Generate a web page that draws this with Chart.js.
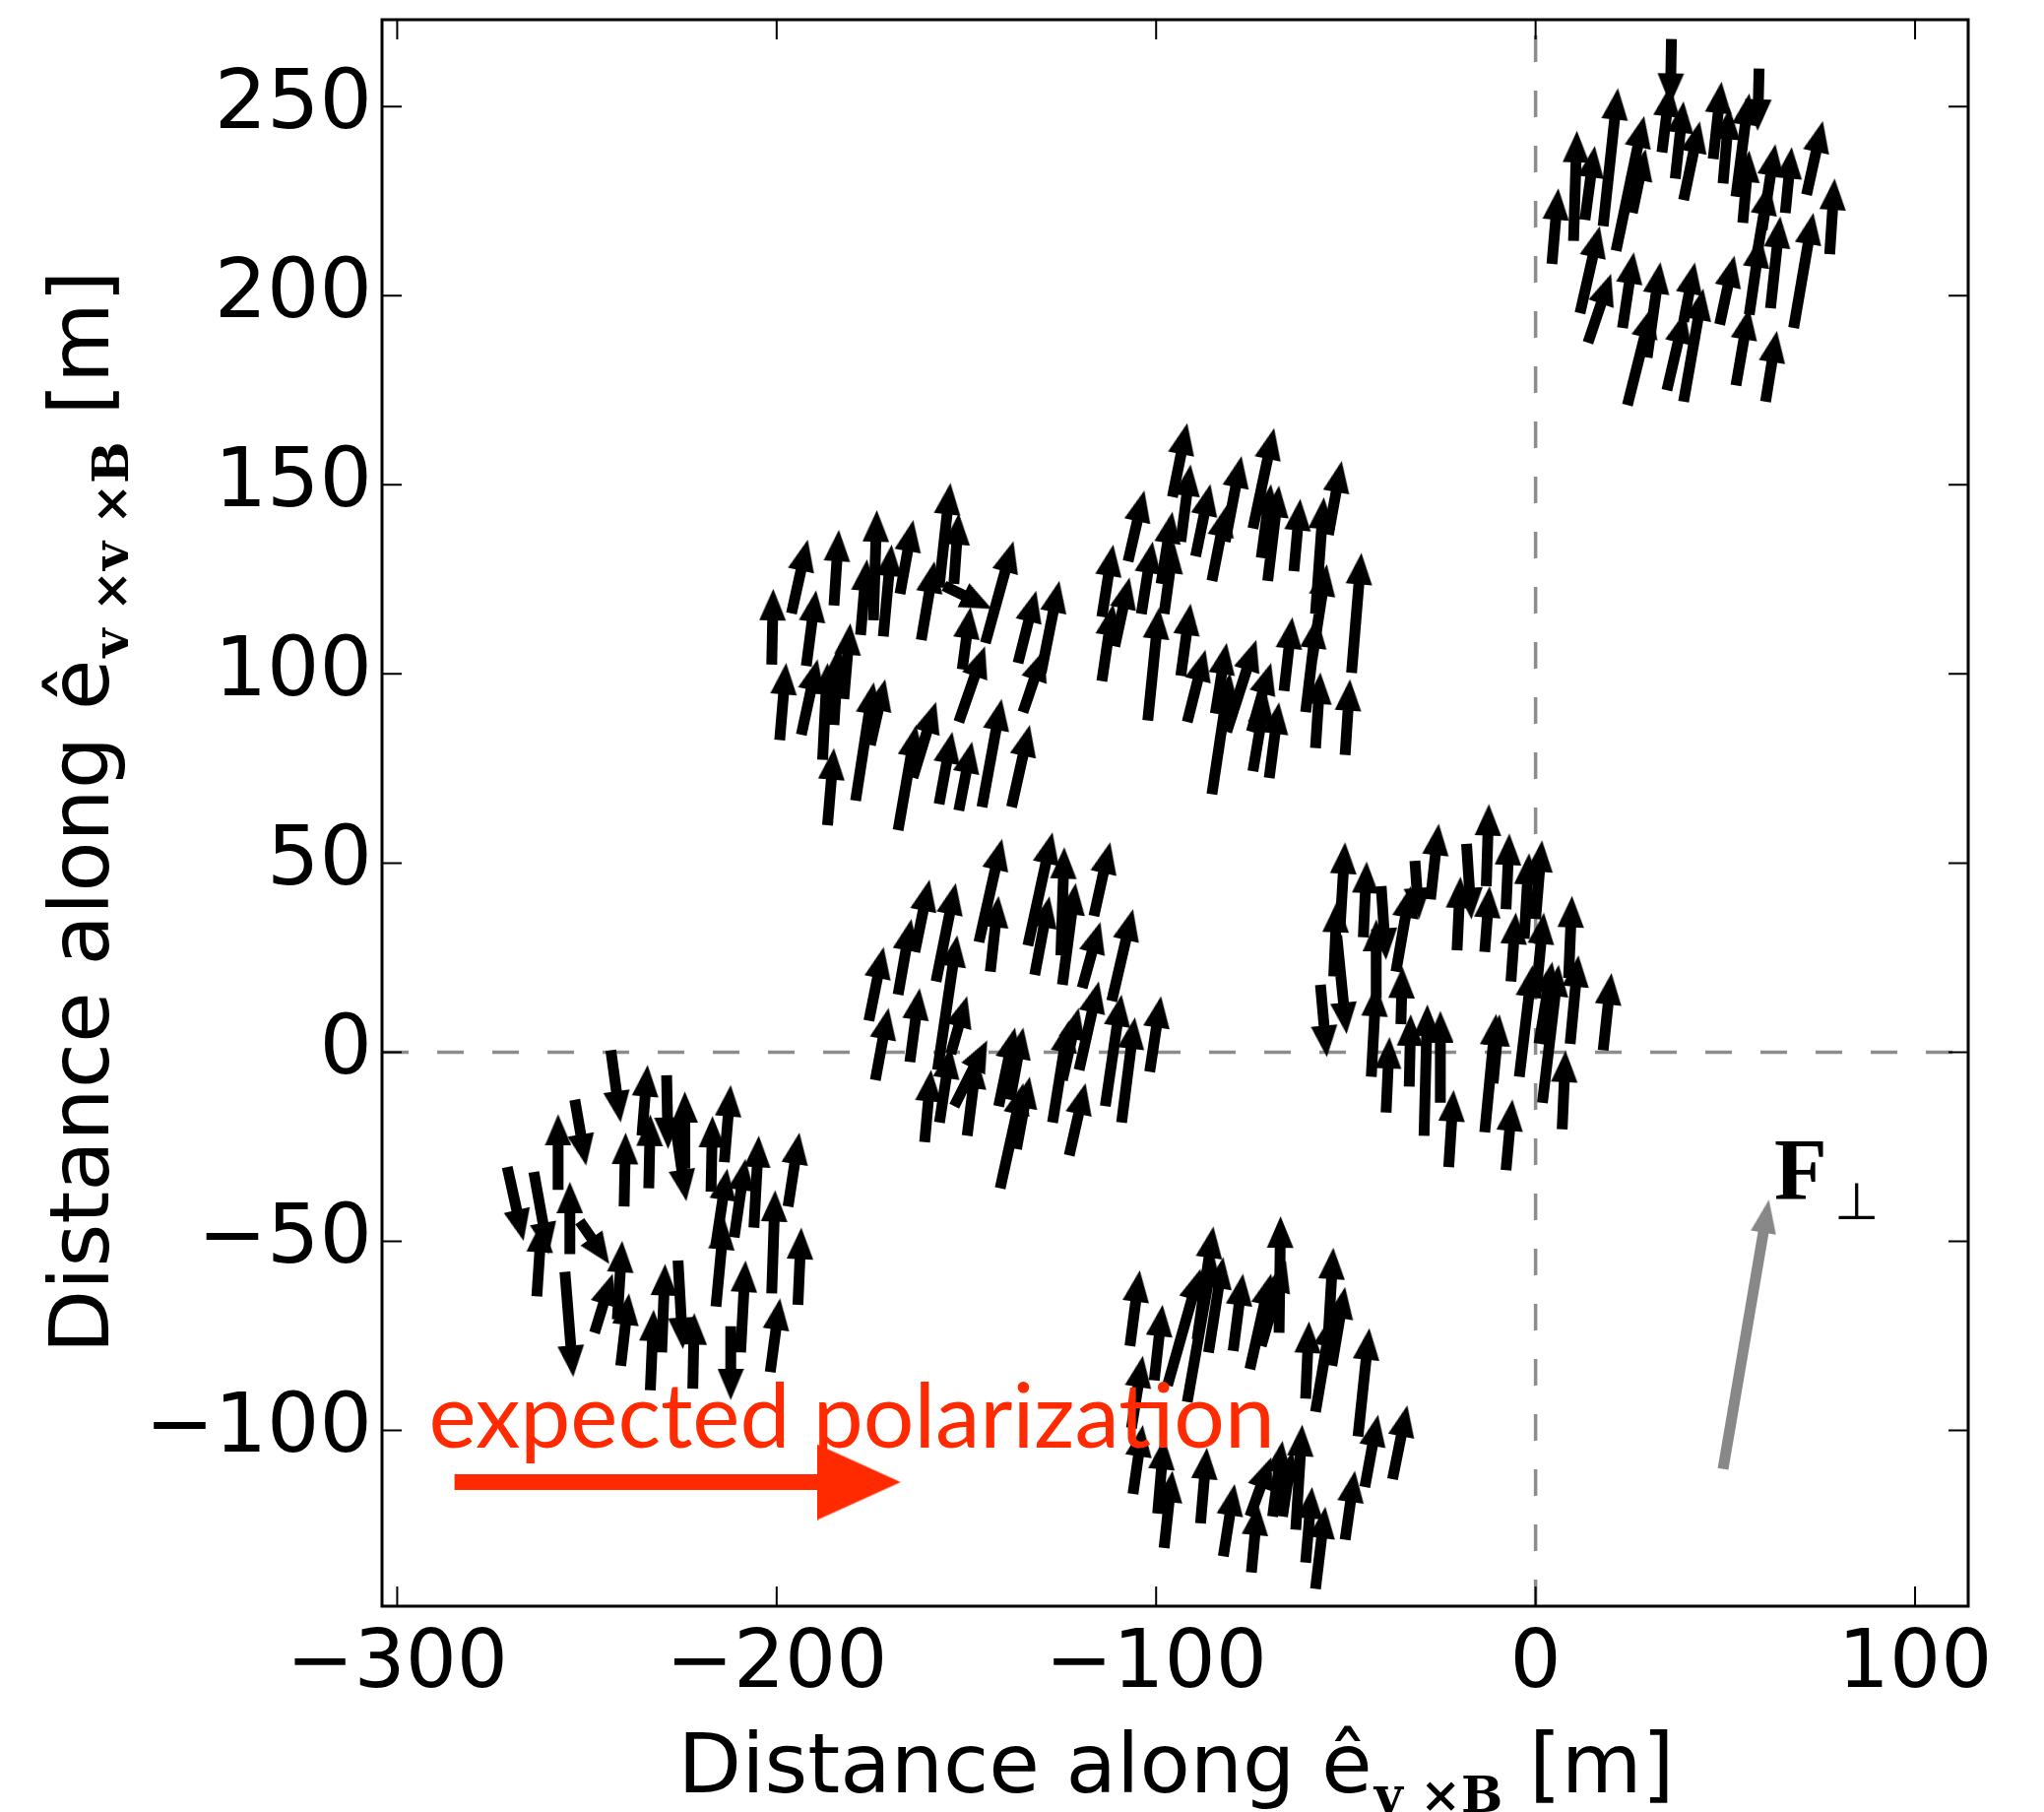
<!DOCTYPE html>
<html>
<head>
<meta charset="utf-8">
<title>Field footprint</title>
<script src="https://cdn.jsdelivr.net/npm/chart.js@4.4.1/dist/chart.umd.min.js"></script>
<style>
  html, body { margin: 0; padding: 0; background: #fff; }
  #wrap { width: 2076px; height: 1840px; position: relative; }
</style>
</head>
<body>
<div id="wrap"><canvas id="footprint"></canvas></div>
<script>
// axis ranges and labelled ticks (metres)
var xRange = [-304, 114];
var yRange = [-146.5, 273];
var xTickLabels = [-300, -200, -100, 0, 100];
var yTickLabels = [-100, -50, 0, 50, 100, 150, 200, 250];

// one array per station: [x, y, u, v] = arrow tail and arrow vector
var stationA = [
  [4.3, 208.4, 1.7, 20.0], [10.0, 214.5, 0.9, 29.1], [13.0, 220.1, 2.6, 19.5], [17.8, 218.4, 3.9, 36.5],
  [11.7, 195.4, 5.2, 23.0], [13.8, 187.6, 6.1, 18.2], [21.2, 211.9, 7.4, 35.6], [22.9, 191.5, 3.0, 20.0],
  [25.5, 221.9, 3.5, 16.9], [33.3, 237.9, 2.2, 17.8], [35.8, 267.9, -0.3, -17.4], [36.8, 231.0, 2.2, 20.4],
  [39.0, 225.3, 4.3, 20.8], [46.8, 236.2, 2.2, 20.4], [49.4, 229.7, 1.7, 20.0], [52.8, 226.2, 3.5, 27.3],
  [54.6, 219.3, 1.7, 19.1], [58.9, 260.1, -0.4, -16.5], [59.7, 217.5, 3.5, 22.6], [65.8, 221.9, 1.7, 17.4],
  [71.4, 226.7, 4.3, 19.5], [77.5, 211.0, 1.3, 20.0], [68.0, 191.5, 5.2, 30.4], [52.8, 176.3, 3.5, 20.4],
  [48.5, 192.4, 3.9, 18.2], [60.6, 172.0, 3.0, 18.7], [39.0, 172.0, 5.2, 29.9], [34.6, 175.0, 4.8, 20.8],
  [24.2, 171.1, 6.5, 26.0], [29.4, 183.7, 3.5, 25.2], [39.0, 193.2, 3.0, 15.6], [56.3, 195.0, 3.0, 20.8],
  [61.9, 196.7, 2.6, 24.3], [58.0, 208.9, 3.5, 20.8]
];
var stationB = [
  [-201.3, 102.5, 0.4, 20.0], [-196.1, 116.0, 4.3, 19.5], [-184.9, 118.1, 1.3, 20.0], [-192.2, 102.1, 2.6, 20.0],
  [-199.2, 82.5, 1.7, 20.4], [-193.5, 83.9, 4.3, 20.0], [-187.9, 77.3, 1.3, 25.6], [-184.9, 86.5, 1.3, 20.8],
  [-182.3, 93.4, 1.7, 20.0], [-186.6, 60.0, 1.7, 20.4], [-177.9, 110.3, 1.7, 20.0], [-174.5, 114.2, 0.9, 29.1],
  [-171.9, 109.9, 2.2, 24.3], [-167.5, 121.2, 3.5, 19.5], [-161.9, 109.0, 3.5, 20.8], [-157.2, 122.9, 3.0, 27.6],
  [-153.3, 123.8, 1.3, 18.7], [-151.1, 101.2, 2.2, 16.5], [-155.9, 123.3, 12.6, -6.1], [-145.0, 108.2, 7.4, 26.9],
  [-136.4, 102.9, 4.8, 19.1], [-130.3, 100.3, 4.8, 24.3], [-152.0, 87.3, 6.9, 20.0], [-145.9, 64.8, 5.2, 28.6],
  [-138.1, 64.8, 4.8, 21.7], [-135.1, 89.9, 5.6, 16.5], [-179.2, 66.5, 4.8, 31.3], [-175.3, 81.2, 3.9, 17.4],
  [-168.0, 58.7, 4.8, 27.8], [-164.1, 72.6, 6.1, 20.0], [-157.2, 65.6, 3.5, 19.1], [-152.0, 63.9, 3.5, 18.2]
];
var stationC = [
  [-95.7, 146.8, 3.9, 19.5], [-93.5, 135.0, 2.6, 20.4], [-107.4, 129.8, 4.3, 18.7], [-114.3, 115.1, 3.0, 19.1],
  [-114.3, 98.1, 3.0, 20.4], [-110.9, 107.3, 3.9, 18.2], [-103.9, 115.9, 3.0, 19.1], [-98.7, 123.8, 3.0, 19.1],
  [-89.6, 131.1, 3.9, 19.1], [-85.3, 124.6, 3.9, 20.0], [-81.8, 135.0, 4.3, 22.6], [-74.5, 138.5, 5.6, 26.5],
  [-70.6, 124.6, 3.0, 25.2], [-72.3, 130.7, 2.6, 19.5], [-63.7, 127.2, 1.7, 19.1], [-54.6, 136.8, 3.5, 19.5],
  [-58.0, 115.9, 2.2, 30.8], [-48.5, 100.3, 2.6, 31.7], [-50.2, 78.6, 1.3, 20.0], [-58.0, 80.4, 1.3, 20.0],
  [-60.6, 89.9, 3.0, 25.2], [-58.9, 103.8, 3.9, 25.2], [-66.3, 95.5, 2.2, 19.5], [-70.2, 72.5, 2.6, 20.0],
  [-74.5, 74.3, 3.5, 20.8], [-85.3, 68.2, 4.8, 32.1], [-81.4, 84.7, 7.8, 24.3], [-91.8, 87.3, 4.8, 19.1],
  [-84.4, 89.5, 3.0, 18.7], [-93.5, 99.5, 2.6, 19.1], [-102.2, 87.7, 3.0, 29.9], [-74.9, 84.7, 5.2, 18.2],
  [-97.9, 115.9, 2.6, 19.1]
];
var stationD = [
  [-175.7, 8.3, 3.9, 19.5], [-174.0, -7.4, 3.5, 19.1], [-168.0, 15.2, 3.5, 20.0], [-164.9, -2.6, 2.6, 19.5],
  [-163.6, 26.5, 3.9, 19.1], [-161.0, -23.8, 1.7, 19.1], [-158.0, 18.7, 5.2, 26.0], [-157.6, -4.7, 5.2, 35.6],
  [-157.1, -18.6, 3.0, 20.0], [-149.8, -22.1, 2.6, 20.8], [-153.2, -14.3, 8.7, 17.4], [-154.1, -0.4, 4.3, 15.2],
  [-146.7, 29.1, 6.1, 27.3], [-143.7, 21.3, 2.2, 20.0], [-141.5, -14.3, 4.3, 20.8], [-141.1, -36.0, 6.1, 27.8],
  [-136.8, -25.6, 3.5, 19.1], [-133.8, 28.2, 6.5, 29.9], [-132.0, 20.4, 3.9, 20.8], [-124.7, 17.8, 3.5, 26.9],
  [-125.1, 25.6, 0.9, 28.6], [-116.4, 36.0, 4.3, 19.5], [-119.5, 17.0, 4.8, 17.4], [-122.9, -27.3, 4.3, 19.1],
  [-127.3, -18.6, 4.3, 26.9], [-124.7, -7.4, 4.3, 19.1], [-120.3, -4.7, 5.2, 23.4], [-113.4, -14.3, 4.3, 29.5],
  [-111.7, 13.5, 5.6, 24.3], [-109.1, -18.6, 3.5, 27.8], [-101.7, -5.2, 3.0, 20.0], [-138.5, -12.6, 3.5, 19.1]
];
var stationE = [
  [-56.7, 17.8, 1.7, -19.1], [-51.5, 33.4, 1.3, 22.1], [-52.4, 30.8, 2.6, -26.0], [-53.2, 20.0, 0.9, 20.0],
  [-45.4, 30.4, 0.9, 20.0], [-40.7, 43.9, 1.3, -19.5], [-43.3, -6.5, 1.3, 24.3], [-42.0, 14.3, 0.0, 20.8],
  [-39.4, -16.0, 0.9, 20.0], [-35.5, 7.4, 0.4, 15.2], [-36.8, 21.3, 3.9, 22.6], [-31.8, 50.6, 1.1, -15.5],
  [-27.7, 40.4, 2.2, 20.0], [-20.7, 26.9, 0.9, 19.5], [-18.2, 55.1, 1.3, -20.0], [-13.0, 43.9, 0.7, 21.7],
  [-13.4, 26.5, 1.3, 17.4], [-7.8, 37.8, 0.9, 20.0], [-3.0, 30.0, 1.3, 22.6], [0.0, 35.2, 1.7, 20.8],
  [-6.5, 18.7, 1.3, 18.2], [0.0, 14.3, 2.2, 22.6], [8.7, 19.6, 0.9, 21.7], [9.1, 2.2, 2.2, 23.4],
  [17.8, 0.5, 2.2, 20.4], [-4.3, -6.5, 3.5, 29.5], [1.8, -13.4, 4.3, 36.5], [0.9, 2.2, 3.5, 21.7],
  [7.0, -20.4, 0.9, 20.8], [-13.4, -21.2, 3.0, 31.3], [-7.8, -31.2, 1.7, 18.7], [-22.9, -30.4, 1.3, 20.4],
  [-29.4, -22.1, 0.9, 34.7], [-33.3, -9.1, 0.4, 19.1], [-25.1, -13.4, 0.0, 24.3], [-11.2, -8.2, 1.7, 18.2]
];
var stationF = [
  [-271.0, -30.4, 4.3, -19.5], [-264.0, -31.7, 3.9, -21.7], [-263.2, -64.6, 1.3, 20.0], [-257.6, -36.4, 0.0, 20.0],
  [-253.2, -12.6, 3.0, -17.4], [-254.5, -53.4, 0.0, 19.1], [-255.8, -58.1, 2.2, -27.8], [-251.9, -44.7, 7.8, -11.3],
  [-248.0, -74.2, 4.8, 15.6], [-243.7, 0.5, 2.6, -19.1], [-240.2, -40.8, 0.4, 19.5], [-233.7, -36.0, 0.4, 19.5],
  [-235.5, -22.1, 1.5, 18.7], [-229.0, -6.1, 0.4, -19.5], [-226.8, -18.6, 3.0, -20.8], [-224.2, -30.8, 0.0, 20.4],
  [-217.3, -36.9, 0.4, 20.0], [-213.8, -29.1, 1.7, 20.4], [-216.0, -50.8, 3.0, 20.0], [-211.2, -49.0, 3.0, 20.8],
  [-206.0, -46.4, 1.3, 24.3], [-197.0, -40.8, 3.0, 19.5], [-201.3, -63.8, 0.9, 27.3], [-194.4, -66.8, 0.9, 20.4],
  [-201.7, -84.6, 2.6, 19.5], [-212.1, -72.5, 0.0, -19.5], [-209.5, -79.4, 1.3, 24.3], [-216.0, -67.3, 2.2, 23.4],
  [-233.3, -89.4, 0.9, 21.3], [-230.3, -79.4, 0.9, 23.4], [-222.1, -89.0, 0.4, 20.0], [-226.0, -55.1, 1.3, -23.4],
  [-241.1, -82.9, 2.2, 19.1], [-242.0, -70.7, 1.3, 20.8]
];
var stationG = [
  [-106.9, -77.7, 2.6, 20.0], [-106.5, -99.4, 3.0, 19.1], [-106.1, -116.8, 2.6, 18.2], [-100.5, -86.8, 2.2, 20.0],
  [-97.0, -88.1, 8.7, 30.8], [-91.8, -92.5, 6.9, 39.5], [-89.2, -76.0, 4.3, 29.9], [-86.2, -79.4, 3.9, 25.2],
  [-79.7, -79.0, 2.6, 20.4], [-75.3, -83.8, 5.6, 25.2], [-67.6, -74.2, 0.4, 30.8], [-72.3, -77.7, 6.5, 22.6],
  [-60.6, -91.6, 0.9, 20.4], [-58.0, -95.1, 4.3, 25.6], [-55.0, -81.2, 1.7, 29.5], [-53.7, -82.9, 3.5, 20.8],
  [-46.8, -101.6, 3.0, 28.6], [-37.7, -112.9, 3.9, 19.5], [-45.0, -115.0, 3.5, 19.1], [-50.2, -128.9, 2.6, 18.2],
  [-58.0, -141.9, 2.6, 21.7], [-60.6, -135.0, 1.7, 20.0], [-63.2, -126.3, 1.7, 27.8], [-66.7, -122.8, 2.6, 17.4],
  [-69.3, -122.8, 2.6, 20.0], [-74.9, -137.6, 1.7, 18.2], [-75.3, -122.8, 5.6, 15.6], [-82.3, -133.3, 3.0, 19.1],
  [-88.3, -124.6, 1.7, 20.0], [-97.9, -131.1, 2.2, 20.4], [-99.6, -122.0, 1.7, 20.0]
];
var stations = [stationA, stationB, stationC, stationD, stationE, stationF, stationG];

// reference arrows: F_perp (grey) and expected polarization (red), [x, y, u, v]
var forceArrow = [49.4, -110.2, 12.1, 71.2];
var polArrow = [-284.9, -113.7, 117.6, 0];

// annotation text anchors (data coordinates)
var polLabel = { text: 'expected polarization', x: -291.7, y: -104.6, xEnd: -68.8 };
var forceLabel = { x: 62.9, y: -38.7, subX: 78.7, subY: -44.1 };

function fmtTick(v) {
  return v < 0 ? '\u2212' + Math.abs(v) : String(v);
}

// arrow head bitmap: tip sits in the centre so the point value is the arrow tip
function headImage(w, len, color) {
  var c = document.createElement('canvas');
  c.width = w;
  c.height = len * 2;
  var g = c.getContext('2d');
  g.fillStyle = color;
  g.beginPath();
  g.moveTo(w / 2, len);
  g.lineTo(w, len * 2);
  g.lineTo(0, len * 2);
  g.closePath();
  g.fill();
  return c;
}

// split arrows into shaft segments and head points
function buildArrows(list, back) {
  var shafts = [], heads = [], rot = [];
  list.forEach(function (a) {
    var len = Math.sqrt(a[2] * a[2] + a[3] * a[3]);
    var k = Math.max(len - back, 0) / len;
    shafts.push({ x: a[0], y: a[1] });
    shafts.push({ x: a[0] + a[2] * k, y: a[1] + a[3] * k });
    shafts.push({ x: a[0], y: null });
    heads.push({ x: a[0] + a[2], y: a[1] + a[3] });
    rot.push(Math.atan2(a[2], a[3]) * 180 / Math.PI);
  });
  return { shafts: shafts, heads: heads, rot: rot };
}

var allArrows = [];
stations.forEach(function (s) { allArrows = allArrows.concat(s); });
var quiver = buildArrows(allArrows, 6);
var force = buildArrows([forceArrow], 6);
var pol = buildArrows([polArrow], 14);

function drawTitle(ctx, cx, by, sub) {
  var main = 'Distance along \u00ea', tail = ' [m]';
  var f1 = '84px "DejaVu Sans"', f2 = 'bold 50px "DejaVu Serif"';
  ctx.font = f1;
  var w1 = ctx.measureText(main).width, w3 = ctx.measureText(tail).width;
  ctx.font = f2;
  var w2 = ctx.measureText(sub).width;
  var x = cx - (w1 + w2 + w3) / 2;
  ctx.textAlign = 'left';
  ctx.textBaseline = 'alphabetic';
  ctx.fillStyle = '#000';
  ctx.font = f1;
  ctx.fillText(main, x, by);
  ctx.font = f2;
  ctx.fillText(sub, x + w1 + 2, by + 20);
  ctx.font = f1;
  ctx.fillText(tail, x + w1 + w2 + 2, by);
}

var decor = {
  id: 'decor',
  afterDatasetsDraw: function (chart) {
    var ctx = chart.ctx, a = chart.chartArea;
    var xs = chart.scales.x, ys = chart.scales.y;
    ctx.save();

    // red label
    ctx.fillStyle = '#ff2a00';
    ctx.textAlign = 'left';
    ctx.textBaseline = 'alphabetic';
    ctx.font = '100px Lato';
    var want = xs.getPixelForValue(polLabel.xEnd) - xs.getPixelForValue(polLabel.x);
    var size = 100 * want / ctx.measureText(polLabel.text).width;
    ctx.font = size.toFixed(1) + 'px Lato';
    ctx.fillText(polLabel.text, xs.getPixelForValue(polLabel.x), ys.getPixelForValue(polLabel.y));

    // F perp label
    ctx.fillStyle = '#000';
    ctx.font = 'bold 88px "Liberation Serif"';
    ctx.fillText('F', xs.getPixelForValue(forceLabel.x), ys.getPixelForValue(forceLabel.y));
    ctx.font = '52px "DejaVu Sans"';
    ctx.fillText('\u22a5', xs.getPixelForValue(forceLabel.subX), ys.getPixelForValue(forceLabel.subY));

    // inward ticks on all four sides
    ctx.strokeStyle = '#000';
    ctx.lineWidth = 2;
    ctx.beginPath();
    xs.ticks.forEach(function (t) {
      var p = xs.getPixelForValue(t.value);
      var len = xTickLabels.indexOf(t.value) >= 0 ? 20 : 10;
      ctx.moveTo(p, a.bottom); ctx.lineTo(p, a.bottom - len);
      ctx.moveTo(p, a.top); ctx.lineTo(p, a.top + len);
    });
    ys.ticks.forEach(function (t) {
      var p = ys.getPixelForValue(t.value);
      var len = yTickLabels.indexOf(t.value) >= 0 ? 20 : 10;
      ctx.moveTo(a.left, p); ctx.lineTo(a.left + len, p);
      ctx.moveTo(a.right, p); ctx.lineTo(a.right - len, p);
    });
    ctx.stroke();
    ctx.lineWidth = 3;
    ctx.strokeRect(a.left, a.top, a.right - a.left, a.bottom - a.top);

    // axis titles
    drawTitle(ctx, (a.left + a.right) / 2, 1820, 'v \u00d7B');
    ctx.translate(110, (a.top + a.bottom) / 2);
    ctx.rotate(-Math.PI / 2);
    drawTitle(ctx, 0, 0, 'v \u00d7v \u00d7B');
    ctx.restore();
  }
};

var ctx = document.getElementById('footprint').getContext('2d');
var chart = new Chart(ctx, {
  type: 'scatter',
  data: {
    datasets: [
      {
        label: 'y = 0',
        data: [{ x: xRange[0], y: 0 }, { x: xRange[1], y: 0 }],
        showLine: true, borderColor: '#8c8c8c', borderWidth: 3.5, borderDash: [27, 29],
        pointRadius: 0, order: 5
      },
      {
        label: 'x = 0',
        data: [{ x: 0, y: yRange[0] }, { x: 0, y: yRange[1] }],
        showLine: true, borderColor: '#8c8c8c', borderWidth: 3.5, borderDash: [27, 29],
        pointRadius: 0, order: 5
      },
      {
        label: 'shafts',
        data: quiver.shafts,
        showLine: true, spanGaps: false, borderColor: '#000', borderWidth: 11,
        borderCapStyle: 'butt', pointRadius: 0, order: 3
      },
      {
        label: 'heads',
        data: quiver.heads,
        pointStyle: headImage(27, 32, '#000'), pointRotation: quiver.rot,
        pointRadius: 3, order: 2
      },
      {
        label: 'F shaft',
        data: force.shafts,
        showLine: true, spanGaps: false, borderColor: '#888', borderWidth: 11,
        borderCapStyle: 'butt', pointRadius: 0, order: 1
      },
      {
        label: 'F head',
        data: force.heads,
        pointStyle: headImage(26, 34, '#888'), pointRotation: force.rot,
        pointRadius: 3, order: 0
      },
      {
        label: 'pol shaft',
        data: pol.shafts,
        showLine: true, spanGaps: false, borderColor: '#ff2a00', borderWidth: 16,
        borderCapStyle: 'butt', pointRadius: 0, order: 1
      },
      {
        label: 'pol head',
        data: pol.heads,
        pointStyle: headImage(77, 85, '#ff2a00'), pointRotation: pol.rot,
        pointRadius: 3, order: 0
      }
    ]
  },
  options: {
    responsive: true,
    maintainAspectRatio: false,
    animation: false,
    events: [],
    layout: { padding: { top: 20, right: 77, left: 0, bottom: 0 } },
    plugins: {
      legend: { display: false },
      tooltip: { enabled: false }
    },
    scales: {
      x: {
        type: 'linear',
        min: xRange[0],
        max: xRange[1],
        grid: { display: false, drawTicks: false },
        border: { display: false },
        afterFit: function (s) { s.height = 209; s.paddingLeft = 0; s.paddingRight = 0; },
        ticks: {
          stepSize: 20,
          includeBounds: false,
          autoSkip: false,
          maxRotation: 0,
          minRotation: 0,
          padding: 12,
          color: '#000',
          font: { family: 'DejaVu Sans', size: 82 },
          callback: function (v) { return xTickLabels.indexOf(v) >= 0 ? fmtTick(v) : null; }
        }
      },
      y: {
        type: 'linear',
        min: yRange[0],
        max: yRange[1],
        grid: { display: false, drawTicks: false },
        border: { display: false },
        afterFit: function (s) { s.width = 388; s.paddingTop = 0; s.paddingBottom = 0; },
        ticks: {
          stepSize: 10,
          includeBounds: false,
          autoSkip: false,
          padding: 10,
          color: '#000',
          font: { family: 'DejaVu Sans', size: 84 },
          callback: function (v) { return yTickLabels.indexOf(v) >= 0 ? fmtTick(v) : null; }
        }
      }
    }
  },
  plugins: [decor]
});
</script>
</body>
</html>
